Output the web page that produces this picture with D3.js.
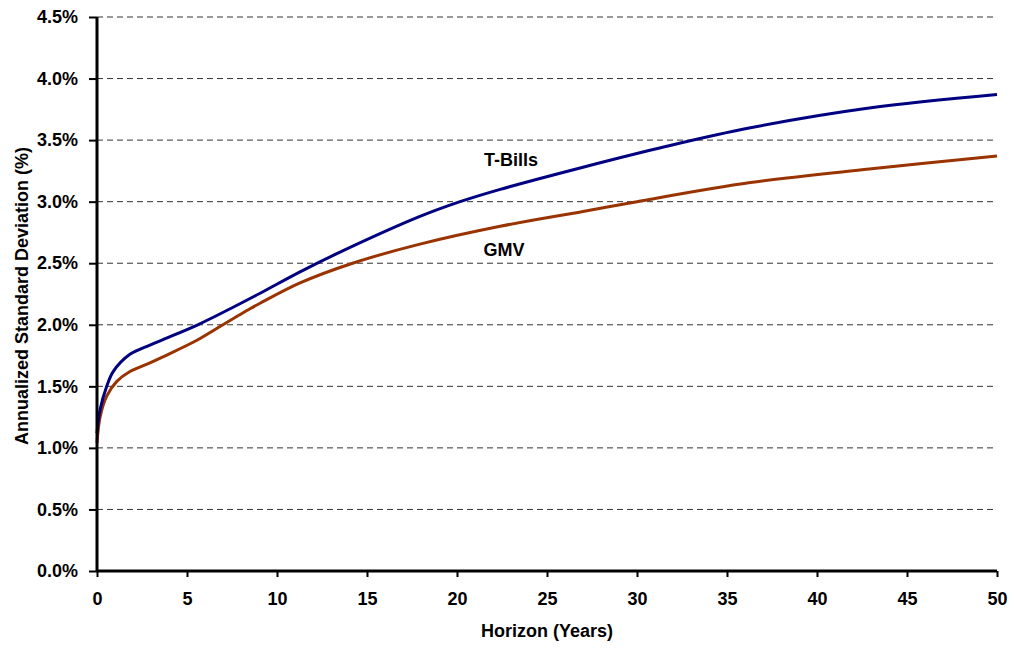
<!DOCTYPE html>
<html>
<head>
<meta charset="utf-8">
<script src="https://cdn.jsdelivr.net/npm/d3@7"></script>
<style>
  body { margin: 0; background: #fff; }
  text { font-family: Arial, "Liberation Sans", sans-serif; font-weight: bold; }
</style>
</head>
<body>
<svg id="chart" width="1014" height="648"></svg>
<script>
var tbillsHorizon = [0, 0.17, 0.54, 0.9, 1.83, 2.94, 3.67, 5.6, 7.4, 9.06, 11.28, 13.5, 17.94, 20.17, 22.4, 27, 31.65, 36.3, 42.9, 50];
var tbills        = [1.12, 1.31, 1.50, 1.62, 1.76, 1.835, 1.88, 2.00, 2.13, 2.256, 2.43, 2.59, 2.88, 3.00, 3.10, 3.28, 3.45, 3.60, 3.76, 3.87];
var gmvHorizon = [0, 0.17, 0.54, 1.1, 1.83, 2.94, 3.67, 5.5, 6.65, 8.5, 9.06, 11.28, 14.2, 17.94, 22.4, 27, 30, 36.3, 42.9, 50];
var gmv        = [1.04, 1.25, 1.42, 1.54, 1.62, 1.69, 1.74, 1.87, 1.97, 2.13, 2.175, 2.34, 2.50, 2.655, 2.80, 2.92, 3.00, 3.155, 3.265, 3.37];
var xTicks = [0, 5, 10, 15, 20, 25, 30, 35, 40, 45, 50];
var yTicks = [0, 0.5, 1, 1.5, 2, 2.5, 3, 3.5, 4, 4.5];

var _LEFT = 97, _RIGHT = 997, _TOP = 17, _BOTTOM = 571;

var svg = d3.select('#chart');

var x = d3.scaleLinear().domain([0, 50]).range([_LEFT, _RIGHT]);
var y = d3.scaleLinear().domain([0, 4.5]).range([_BOTTOM, _TOP]);

// gridlines
svg.append('g')
  .selectAll('line')
  .data(yTicks.slice(1))
  .enter()
  .append('line')
  .attr('x1', _LEFT)
  .attr('x2', _RIGHT - 2)
  .attr('y1', function(d) { return y(d); })
  .attr('y2', function(d) { return y(d); })
  .attr('stroke', '#333')
  .attr('stroke-width', 1)
  .attr('stroke-dasharray', '6,4');

var line = d3.line()
  .x(function(d) { return x(d[0]); })
  .y(function(d) { return y(d[1]); })
  .curve(d3.curveCatmullRom.alpha(0.5));

svg.append('path')
  .datum(gmvHorizon.map(function(h, i) { return [h, gmv[i]]; }))
  .attr('d', line)
  .attr('fill', 'none')
  .attr('stroke', '#993300')
  .attr('stroke-width', 3);

svg.append('path')
  .datum(tbillsHorizon.map(function(h, i) { return [h, tbills[i]]; }))
  .attr('d', line)
  .attr('fill', 'none')
  .attr('stroke', '#000080')
  .attr('stroke-width', 3);

// axes
var xAxis = svg.append('g')
  .attr('transform', 'translate(0,' + _BOTTOM + ')')
  .call(d3.axisBottom(x).tickValues(xTicks).tickSize(6).tickPadding(15));

var yAxis = svg.append('g')
  .attr('transform', 'translate(' + _LEFT + ',0)')
  .call(d3.axisLeft(y).tickValues(yTicks).tickSize(8).tickPadding(11)
    .tickFormat(function(d) { return d.toFixed(1) + '%'; }));

[xAxis, yAxis].forEach(function(a) {
  a.select('.domain').attr('stroke', '#000').attr('stroke-width', 3);
  a.selectAll('.tick line').attr('stroke', '#000').attr('stroke-width', 2);
  a.selectAll('.tick text')
    .attr('fill', '#000')
    .style('font-size', '18px')
    .style('font-family', 'Arial, "Liberation Sans", sans-serif')
    .style('font-weight', 'bold');
});
xAxis.select('.domain').attr('d', 'M' + _LEFT + ',0H' + _RIGHT);
yAxis.select('.domain').attr('d', 'M0,' + _TOP + 'V' + _BOTTOM);

// titles
svg.append('text')
  .attr('x', 547)
  .attr('y', 637)
  .attr('text-anchor', 'middle')
  .style('font-size', '18px')
  .text('Horizon (Years)');

svg.append('text')
  .attr('transform', 'translate(28,296) rotate(-90)')
  .attr('text-anchor', 'middle')
  .style('font-size', '18px')
  .text('Annualized Standard Deviation (%)');

// series labels
svg.append('text')
  .attr('x', 511)
  .attr('y', 166)
  .attr('text-anchor', 'middle')
  .style('font-size', '18px')
  .text('T-Bills');

svg.append('text')
  .attr('x', 504)
  .attr('y', 256)
  .attr('text-anchor', 'middle')
  .style('font-size', '18px')
  .text('GMV');
</script>
</body>
</html>
